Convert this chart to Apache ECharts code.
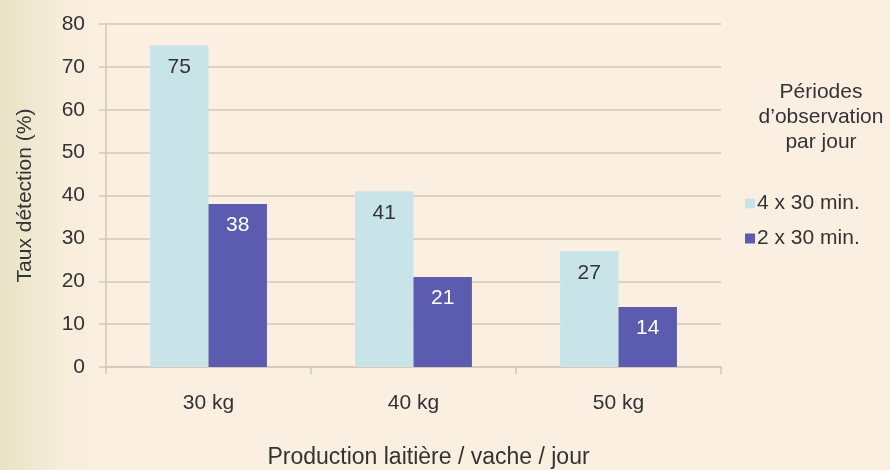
<!DOCTYPE html>
<html>
<head>
<meta charset="utf-8">
<script src="https://cdn.jsdelivr.net/npm/echarts@6/dist/echarts.min.js"></script>
<style>
  html, body { margin: 0; padding: 0; background: #fbefe1; }
  #chart { width: 890px; height: 470px; }
</style>
</head>
<body>
<div id="chart"></div>
<script>
// Detection rate by milk yield, for two observation schedules
const categories = ['30 kg', '40 kg', '50 kg'];
const seriesNames = ['4 x 30 min.', '2 x 30 min.'];
const fourPeriods = [75, 41, 27];
const twoPeriods = [38, 21, 14];
const yTicks = { min: 0, max: 80, interval: 10 };

const FONT = '"Liberation Sans", Arial, sans-serif';
const TEXT = '#333333';
const LINE = '#d3c7bb';

const chart = echarts.init(document.getElementById('chart'));

chart.setOption({
  backgroundColor: {
    type: 'linear', x: 0, y: 0, x2: 1, y2: 0,
    colorStops: [
      { offset: 0, color: '#e8e2c6' },
      { offset: 0.03, color: '#eee7cf' },
      { offset: 0.07, color: '#f7edda' },
      { offset: 0.11, color: '#fbefe1' },
      { offset: 1, color: '#fbefe1' }
    ]
  },
  textStyle: { fontFamily: FONT, color: TEXT },
  animation: false,
  title: {
    text: 'Périodes\nd’observation\npar jour',
    left: 816,
    top: 75,
    textAlign: 'center',
    textStyle: {
      fontFamily: FONT, fontSize: 21, fontWeight: 'normal',
      color: TEXT, lineHeight: 25, align: 'center'
    }
  },
  legend: {
    orient: 'vertical',
    left: 740,
    top: 188,
    itemWidth: 10,
    itemHeight: 10,
    itemGap: 14,
    icon: 'rect',
    data: seriesNames,
    textStyle: { fontFamily: FONT, fontSize: 21, color: TEXT, padding: [0, 0, 0, -3] }
  },
  grid: { left: 106, right: 169, top: 24, bottom: 103, outerBoundsMode: 'none', containLabel: false },
  xAxis: {
    type: 'category',
    data: categories,
    name: 'Production laitière / vache / jour',
    nameLocation: 'middle',
    nameGap: 79,
    nameTextStyle: { fontFamily: FONT, fontSize: 23, color: TEXT, padding: [0, 0, 0, 30] },
    axisLine: { lineStyle: { color: LINE, width: 1.5 } },
    axisTick: { show: true, length: 7, lineStyle: { color: LINE, width: 1.5 } },
    axisLabel: { fontFamily: FONT, fontSize: 21, color: TEXT, margin: 26 }
  },
  yAxis: {
    type: 'value',
    min: yTicks.min,
    max: yTicks.max,
    interval: yTicks.interval,
    name: 'Taux détection (%)',
    nameLocation: 'middle',
    nameGap: 70,
    nameTextStyle: { fontFamily: FONT, fontSize: 21, color: TEXT },
    axisLine: { show: true, lineStyle: { color: LINE, width: 1.5 } },
    axisTick: { show: true, length: 7, lineStyle: { color: LINE, width: 1.5 } },
    splitLine: { lineStyle: { color: LINE, width: 1.5 } },
    axisLabel: { fontFamily: FONT, fontSize: 21, color: TEXT, margin: 21 }
  },
  series: [
    {
      name: seriesNames[0],
      type: 'bar',
      data: fourPeriods,
      barGap: '0%',
      barCategoryGap: '43%',
      itemStyle: { color: '#c9e4e8' },
      label: {
        show: true, position: 'insideTop', distance: 11,
        fontFamily: FONT, fontSize: 21, color: TEXT
      }
    },
    {
      name: seriesNames[1],
      type: 'bar',
      data: twoPeriods,
      barGap: '0%',
      barCategoryGap: '43%',
      itemStyle: { color: '#5b5cb0' },
      label: {
        show: true, position: 'insideTop', distance: 11,
        fontFamily: FONT, fontSize: 21, color: '#ffffff'
      }
    }
  ]
});
</script>
</body>
</html>
